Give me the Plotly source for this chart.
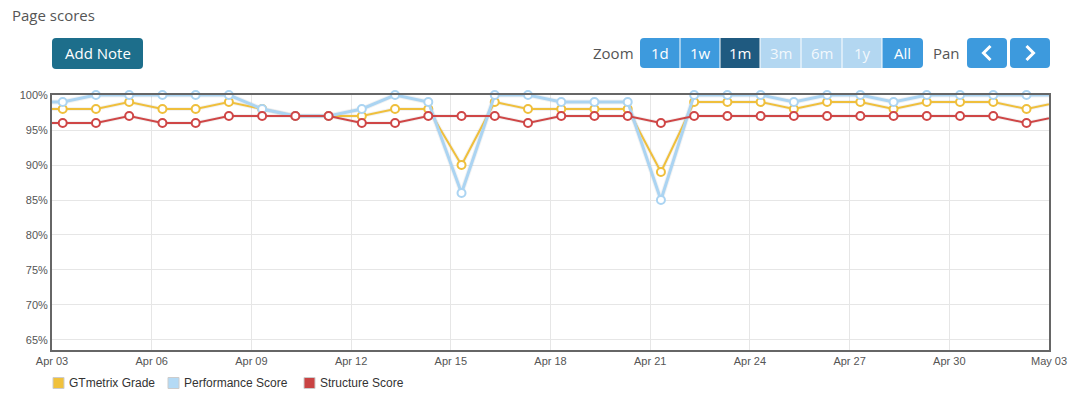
import plotly.graph_objects as go
import pandas as pd

# ---------------- data ----------------
# daily test times (first and last points lie just outside the visible range)
dates = list(pd.date_range("2019-04-02 07:45", periods=32, freq="D"))
gtmetrix_grade = [98, 98, 98, 99, 98, 98, 99, 98, 97, 97, 97, 98, 98, 90, 99, 98,
                  98, 98, 98, 89, 99, 99, 99, 98, 99, 99, 98, 99, 99, 99, 98, 99]
performance_score = [99, 99, 100, 100, 100, 100, 100, 98, 97, 97, 98, 100, 99, 86, 100, 100,
                     99, 99, 99, 85, 100, 100, 100, 99, 100, 100, 99, 100, 100, 100, 100, 100]
structure_score = [96, 96, 96, 97, 96, 96, 97, 97, 97, 97, 96, 96, 97, 97, 97, 96,
                   97, 97, 97, 96, 97, 97, 97, 97, 97, 97, 97, 97, 97, 97, 96, 97]
series_names = ["GTmetrix Grade", "Performance Score", "Structure Score"]
y_ticks = [65, 70, 75, 80, 85, 90, 95, 100]
y_tick_labels = ["65%", "70%", "75%", "80%", "85%", "90%", "95%", "100%"]
x_range = ["2019-04-03", "2019-05-03"]
zoom_labels = ["1d", "1w", "1m", "3m", "6m", "1y", "All"]

colors = ["#efbf3c", "#abd4f2", "#cf4646"]
widths = [2, 3, 2]

# ---------------- layout geometry ----------------
W, H = 1092, 404
L, R, T, B = 52, 1049, 95, 350


def px(x):
    return (x - L) / (R - L)


def py(y):
    return (B - y) / (B - T)


def rrect(x0, y0, x1, y1, rl=4, rr=4):
    """rounded rectangle path in paper coords from pixel coords"""
    pts = []
    pts.append(f"M{px(x0 + rl)},{py(y0)}")
    pts.append(f"L{px(x1 - rr)},{py(y0)}")
    pts.append(f"Q{px(x1)},{py(y0)} {px(x1)},{py(y0 + rr)}")
    pts.append(f"L{px(x1)},{py(y1 - rr)}")
    pts.append(f"Q{px(x1)},{py(y1)} {px(x1 - rr)},{py(y1)}")
    pts.append(f"L{px(x0 + rl)},{py(y1)}")
    pts.append(f"Q{px(x0)},{py(y1)} {px(x0)},{py(y1 - rl)}")
    pts.append(f"L{px(x0)},{py(y0 + rl)}")
    pts.append(f"Q{px(x0)},{py(y0)} {px(x0 + rl)},{py(y0)}")
    pts.append("Z")
    return " ".join(pts)


fig = go.Figure()
series = [gtmetrix_grade, performance_score, structure_score]

for name, vals, c, w in zip(series_names, series, colors, widths):
    # soft shadow
    fig.add_trace(go.Scatter(x=dates, y=vals, mode="lines",
                             line=dict(color="rgba(0,0,0,0.05)", width=w + 2),
                             hoverinfo="skip", showlegend=False))
for name, vals, c, w in zip(series_names, series, colors, widths):
    fig.add_trace(go.Scatter(x=dates, y=vals, mode="lines", name=name,
                             line=dict(color=c, width=w), showlegend=False,
                             hoverinfo="skip"))
    fig.add_trace(go.Scatter(x=dates[1:-1], y=vals[1:-1], mode="markers", name=name,
                             marker=dict(size=8, color="white",
                                         line=dict(color=c, width=2)),
                             cliponaxis=False, showlegend=False))

shapes = []
annotations = []

# title
annotations.append(dict(x=px(10), y=py(15), xref="paper", yref="paper",
                        text="Page scores", showarrow=False, xanchor="left",
                        yanchor="middle",
                        font=dict(family="Open Sans", size=15, color="#555555")))

# Add Note button
shapes.append(dict(type="path", xref="paper", yref="paper",
                   path=rrect(52, 38, 143, 69), fillcolor="#1d6e8b",
                   line=dict(width=0)))
annotations.append(dict(x=px(97.5), y=py(53.5), xref="paper", yref="paper",
                        text="Add Note", showarrow=False, xanchor="center",
                        yanchor="middle",
                        font=dict(family="Open Sans", size=15, color="white")))

# Zoom group
annotations.append(dict(x=px(636), y=py(53.5), xref="paper", yref="paper",
                        text="Zoom", showarrow=False, xanchor="right",
                        yanchor="middle",
                        font=dict(family="Open Sans", size=15, color="#555555")))
edges = [640, 680, 720, 760, 801, 842, 882, 923]
btn_colors = ["#3d9add", "#3d9add", "#1f5a80", "#b3d7f1", "#b3d7f1", "#b3d7f1", "#3d9add"]
for i, lab in enumerate(zoom_labels):
    x0, x1 = edges[i], edges[i + 1]
    rl = 4 if i == 0 else 0
    rr = 4 if i == len(zoom_labels) - 1 else 0
    shapes.append(dict(type="path", xref="paper", yref="paper",
                       path=rrect(x0 + (0 if i == 0 else 0.5), 38,
                                  x1 - (0 if i == len(zoom_labels) - 1 else 0.5), 68,
                                  rl, rr),
                       fillcolor=btn_colors[i], line=dict(width=0)))
    annotations.append(dict(x=px((x0 + x1) / 2), y=py(53.5), xref="paper", yref="paper",
                            text=lab, showarrow=False, xanchor="center",
                            yanchor="middle",
                            font=dict(family="Open Sans", size=15,
                                      color="rgba(255,255,255,0.85)" if i in (3, 4, 5) else "white")))

# Pan group
annotations.append(dict(x=px(962), y=py(53.5), xref="paper", yref="paper",
                        text="Pan", showarrow=False, xanchor="right",
                        yanchor="middle",
                        font=dict(family="Open Sans", size=15, color="#555555")))
for (x0, x1), d in zip([(967, 1007), (1010, 1050)], [-1, 1]):
    shapes.append(dict(type="path", xref="paper", yref="paper",
                       path=rrect(x0, 38, x1, 68), fillcolor="#3d9add",
                       line=dict(width=0)))
    cx = (x0 + x1) / 2
    shapes.append(dict(type="path", xref="paper", yref="paper",
                       path=f"M{px(cx - 3.5 * d)},{py(46)} L{px(cx + 3.5 * d)},{py(53)} L{px(cx - 3.5 * d)},{py(60)}",
                       line=dict(color="white", width=3)))

# legend
leg_x = [53, 168, 304]
for name, c, x in zip(series_names, ["#f0c13c", "#b4daf5", "#c94343"], leg_x):
    shapes.append(dict(type="rect", xref="paper", yref="paper",
                       x0=px(x), x1=px(x + 11), y0=py(377.5), y1=py(388.5),
                       fillcolor=c, line=dict(color="#cccccc", width=1)))
    annotations.append(dict(x=px(x + 14), y=py(383), xref="paper", yref="paper",
                            text=name, showarrow=False, xanchor="left",
                            yanchor="middle",
                            font=dict(family="Liberation Sans, Arial", size=12,
                                      color="#333333")))

fig.update_layout(
    width=W, height=H, autosize=False,
    margin=dict(l=L, r=W - R, t=T, b=H - B, pad=0),
    paper_bgcolor="white", plot_bgcolor="white",
    showlegend=False,
    shapes=shapes, annotations=annotations,
    font=dict(family="Liberation Sans, Arial", size=11, color="#555555"),
)
fig.update_xaxes(type="date", range=x_range, tick0=x_range[0], dtick=3 * 86400000,
                 tickformat="%b %d", showgrid=True, gridcolor="#e6e6e6", gridwidth=1,
                 showline=True, mirror=True, linecolor="#666666", linewidth=2,
                 ticks="", tickfont=dict(size=11, color="#555555"), zeroline=False)
fig.update_yaxes(range=[63.57, 100], tickmode="array", tickvals=y_ticks,
                 ticktext=y_tick_labels,
                 showgrid=True, gridcolor="#e6e6e6", gridwidth=1,
                 showline=True, mirror=True, linecolor="#666666", linewidth=2,
                 ticks="", tickfont=dict(size=11, color="#555555"), zeroline=False)

fig.write_html("out.html")
